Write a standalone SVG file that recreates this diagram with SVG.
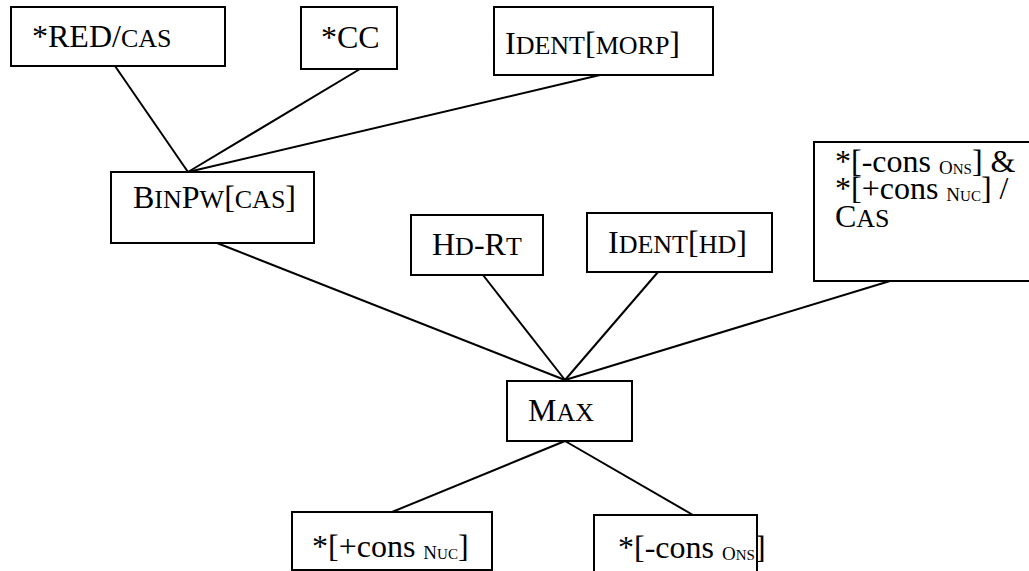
<svg xmlns="http://www.w3.org/2000/svg" width="1029" height="571" viewBox="0 0 1029 571">
<style>
rect{fill:#fff;stroke:#000;stroke-width:2}
line{stroke:#000;stroke-width:2}
text{font-family:"Liberation Serif",LiberationSerif,Tinos,"DejaVu Serif","Noto Serif",FreeSerif,"Times New Roman",Times,serif;font-size:32px;fill:#000}
.sc{font-size:26px}
.sb{font-size:19px}
.ss{font-size:15px}
</style>
<rect x="0" y="0" width="1029" height="571" style="fill:#fff;stroke:none"/>
<g id="connectors">
<line x1="115" y1="66" x2="188" y2="172"/>
<line x1="360" y1="69" x2="188" y2="172"/>
<line x1="600" y1="75" x2="188" y2="172"/>
<line x1="217" y1="243" x2="565" y2="380"/>
<line x1="483" y1="275" x2="565" y2="380"/>
<line x1="658" y1="272" x2="565" y2="380"/>
<line x1="890" y1="281" x2="565" y2="380"/>
<line x1="565" y1="441" x2="392" y2="512"/>
<line x1="565" y1="441" x2="693" y2="515"/>
</g>
<g id="n-red-cas">
<rect x="11" y="7" width="214" height="59"/>
<text x="32" y="47">*RED/<tspan class="sc">CAS</tspan></text>
</g>
<g id="n-cc">
<rect x="301" y="7" width="96" height="62"/>
<text x="321" y="48">*CC</text>
</g>
<g id="n-ident-morp">
<rect x="494" y="7" width="219" height="68"/>
<text x="505" y="54">I<tspan class="sc">DENT</tspan>[<tspan class="sc">MORP</tspan>]</text>
</g>
<g id="n-binpw">
<rect x="111" y="172" width="203" height="71"/>
<text x="133" y="208">B<tspan class="sc">IN</tspan>P<tspan class="sc">W</tspan>[<tspan class="sc">CAS</tspan>]</text>
</g>
<g id="n-hd-rt">
<rect x="411" y="215" width="132" height="60"/>
<text x="432" y="255">H<tspan class="sc">D</tspan>-R<tspan class="sc">T</tspan></text>
</g>
<g id="n-ident-hd">
<rect x="587" y="213" width="185" height="59"/>
<text x="608" y="253">I<tspan class="sc">DENT</tspan>[<tspan class="sc">HD</tspan>]</text>
</g>
<g id="n-cons-cas">
<rect x="814" y="142" width="225" height="139"/>
<text x="835" y="172">*[-cons <tspan class="sb" dy="2">O</tspan><tspan class="ss">NS</tspan><tspan dy="-2">] &amp;</tspan></text>
<text x="835" y="199">*[+cons <tspan class="sb" dy="2">N</tspan><tspan class="ss">UC</tspan><tspan dy="-2">] /</tspan></text>
<text x="835" y="227">C<tspan class="sc">AS</tspan></text>
</g>
<g id="n-max">
<rect x="507" y="381" width="125" height="60"/>
<text x="528" y="421">M<tspan class="sc">AX</tspan></text>
</g>
<g id="n-cons-nuc">
<rect x="292" y="512" width="200" height="58"/>
<text x="312" y="557">*[+cons <tspan class="sb" dy="2">N</tspan><tspan class="ss">UC</tspan><tspan dy="-2">]</tspan></text>
</g>
<g id="n-cons-ons">
<rect x="594" y="515" width="163" height="60"/>
<text x="618" y="558">*[-cons <tspan class="sb" dy="2">O</tspan><tspan class="ss">NS</tspan><tspan dy="-2">]</tspan></text>
</g>
</svg>
